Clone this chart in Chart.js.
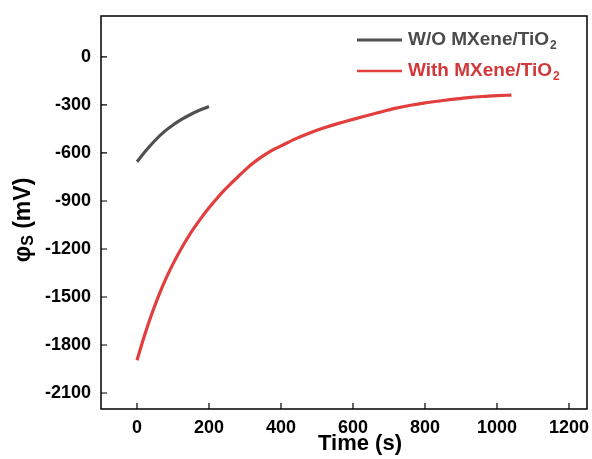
<!DOCTYPE html>
<html>
<head>
<meta charset="utf-8">
<script src="https://cdn.jsdelivr.net/npm/chart.js@4"></script>
<style>
  html, body { margin: 0; background: #fff; }
  #wrap { width: 592px; height: 459px; }
</style>
</head>
<body>
<div id="wrap"><canvas id="chart"></canvas></div>
<script>
// axis ticks
const xTicks = [0, 200, 400, 600, 800, 1000, 1200];
const yTicks = [0, -300, -600, -900, -1200, -1500, -1800, -2100];

// W/O MXene/TiO2 (gray)
const woTime = [0, 25, 50, 75, 100, 125, 150, 175, 200];
const woPhi  = [-655, -585, -522, -468, -425, -389, -358, -332, -310];

// With MXene/TiO2 (red)
const withTime = [0, 20, 40, 60, 80, 100, 120, 140, 160, 180, 200, 220, 240, 260, 280, 300,
  320, 340, 360, 380, 400, 440, 480, 520, 560, 600, 640, 680, 720, 760, 800, 840, 880,
  920, 960, 1000, 1040];
const withPhi = [-1895, -1747, -1613, -1493, -1387, -1293, -1209, -1133, -1064, -1001, -943,
  -889, -839, -793, -750, -707, -668, -634, -604, -578, -556, -512, -475, -443, -415, -390,
  -366, -342, -320, -302, -287, -275, -264, -254, -247, -242, -238];

const seriesNames = ['W/O MXene/TiO', 'With MXene/TiO'];
const seriesSub = '2';
const lineColors = ['rgb(80,80,80)', 'rgb(226,62,62)'];
const textColors = ['rgb(75,75,75)', 'rgb(210,55,58)'];

const FONT = "Arial, 'Liberation Sans', sans-serif";

function toPoints(xs, ys) {
  return xs.map((x, i) => ({ x: x, y: ys[i] }));
}

// frame, inward ticks, legend and axis titles
const decorPlugin = {
  id: 'decor',
  afterDraw(chart) {
    const ctx = chart.ctx;
    const a = chart.chartArea;
    const xs = chart.scales.x, ys = chart.scales.y;
    ctx.save();
    ctx.strokeStyle = '#000';
    ctx.lineWidth = 1.5;
    ctx.strokeRect(a.left, a.top, a.right - a.left, a.bottom - a.top);

    // inward ticks
    ctx.lineWidth = 1.2;
    ctx.beginPath();
    xTicks.forEach(v => {
      const px = xs.getPixelForValue(v);
      ctx.moveTo(px, a.bottom);
      ctx.lineTo(px, a.bottom - 6);
    });
    yTicks.forEach(v => {
      const py = ys.getPixelForValue(v);
      ctx.moveTo(a.left, py);
      ctx.lineTo(a.left + 6, py);
    });
    ctx.stroke();

    // legend
    const lx = a.right - 230;
    [0, 1].forEach(i => {
      const ly = a.top + 24 + i * 31;
      ctx.strokeStyle = lineColors[i];
      ctx.lineWidth = i === 0 ? 3 : 2.5;
      ctx.beginPath();
      ctx.moveTo(lx, ly);
      ctx.lineTo(lx + 45, ly);
      ctx.stroke();
      ctx.fillStyle = textColors[i];
      ctx.font = 'bold 19px ' + FONT;
      ctx.textBaseline = 'middle';
      ctx.textAlign = 'left';
      ctx.fillText(seriesNames[i], lx + 51, ly);
      const w = ctx.measureText(seriesNames[i]).width;
      ctx.font = 'bold 12px ' + FONT;
      ctx.fillText(seriesSub, lx + 51 + w + 1, ly + 6);
    });

    // x title
    ctx.fillStyle = '#000';
    ctx.font = 'bold 22px ' + FONT;
    ctx.textAlign = 'center';
    ctx.textBaseline = 'middle';
    ctx.fillText('Time (s)', (a.left + a.right) / 2 + 16, 444);

    // y title: phi_S (mV)
    ctx.translate(24, 220);
    ctx.rotate(-Math.PI / 2);
    ctx.font = 'bold 23px ' + FONT;
    const wPhi = ctx.measureText('\u03C6').width;
    const wRest = ctx.measureText(' (mV)').width;
    ctx.font = 'bold 16px ' + FONT;
    const wS = ctx.measureText('S').width;
    let x0 = -(wPhi + wS + wRest) / 2;
    ctx.textAlign = 'left';
    ctx.font = 'bold 23px ' + FONT;
    ctx.fillText('\u03C6', x0, 0);
    ctx.font = 'bold 16px ' + FONT;
    ctx.fillText('S', x0 + wPhi, 5);
    ctx.font = 'bold 23px ' + FONT;
    ctx.fillText(' (mV)', x0 + wPhi + wS, 0);
    ctx.restore();
  }
};

const ctx = document.getElementById('chart').getContext('2d');
new Chart(ctx, {
  type: 'line',
  data: {
    datasets: [
      {
        label: seriesNames[0] + seriesSub,
        data: toPoints(woTime, woPhi),
        borderColor: lineColors[0],
        borderWidth: 3.2,
        pointRadius: 0,
        cubicInterpolationMode: 'monotone',
        fill: false
      },
      {
        label: seriesNames[1] + seriesSub,
        data: toPoints(withTime, withPhi),
        borderColor: lineColors[1],
        borderWidth: 3.2,
        pointRadius: 0,
        cubicInterpolationMode: 'monotone',
        fill: false
      }
    ]
  },
  options: {
    responsive: true,
    maintainAspectRatio: false,
    animation: false,
    layout: { padding: { left: 0, top: 16, right: 5, bottom: 0 } },
    plugins: {
      legend: { display: false },
      tooltip: { enabled: false }
    },
    scales: {
      x: {
        type: 'linear',
        min: -100,
        max: 1250,
        grid: { display: false, drawTicks: false },
        border: { display: false },
        afterBuildTicks: s => { s.ticks = xTicks.map(v => ({ value: v })); },
        afterFit: s => { s.height = 50; s.paddingLeft = 0; s.paddingRight = 0; },
        ticks: {
          padding: 8,
          color: '#000',
          maxRotation: 0,
          autoSkip: false,
          callback: v => String(v),
          font: { family: FONT, size: 18, weight: 'bold' }
        }
      },
      y: {
        type: 'linear',
        min: -2200,
        max: 256,
        grid: { display: false, drawTicks: false },
        border: { display: false },
        afterBuildTicks: s => { s.ticks = yTicks.map(v => ({ value: v })); },
        afterFit: s => { s.width = 101; s.paddingTop = 0; s.paddingBottom = 0; },
        ticks: {
          padding: 10,
          color: '#000',
          autoSkip: false,
          callback: v => String(v),
          font: { family: FONT, size: 18, weight: 'bold' }
        }
      }
    }
  },
  plugins: [decorPlugin]
});
</script>
</body>
</html>
